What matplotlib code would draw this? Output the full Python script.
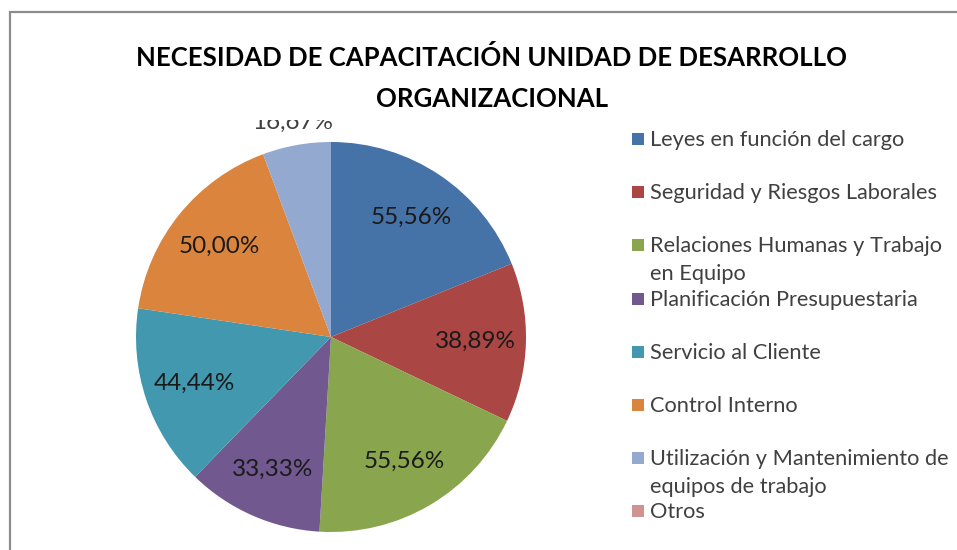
import matplotlib.pyplot as plt
from matplotlib.patches import Rectangle

plt.rcParams['font.family'] = ['Lato', 'DejaVu Sans']

# datos del gráfico
categorias = ['Leyes en función del cargo',
              'Seguridad y Riesgos Laborales',
              'Relaciones Humanas y Trabajo\nen Equipo',
              'Planificación Presupuestaria',
              'Servicio al Cliente',
              'Control Interno',
              'Utilización y Mantenimiento de\nequipos de trabajo',
              'Otros']
valores = [55.56, 38.89, 55.56, 33.33, 44.44, 50.00, 16.67, 0.0]
etiquetas = ['55,56%', '38,89%', '55,56%', '33,33%', '44,44%', '50,00%', '16,67%', '']
colores = ['#4572A7', '#AA4643', '#89A54E', '#71588F',
           '#4198AF', '#DB843D', '#93A9CF', '#D19392']

W, H = 957, 550
fig = plt.figure(figsize=(W / 100, H / 100), dpi=100)

# marco gris del área del gráfico
fig.patches.append(Rectangle((10 / W, -0.1), 1.2, (H - 12) / H + 0.1,
                             transform=fig.transFigure, fill=False,
                             edgecolor='#8c8c8c', linewidth=1.6, zorder=1))

# pastel: centro (331, 337) px, radio 195 px
cx, cy, r = 331, 337, 195
ax = fig.add_axes([(cx - r) / W, (H - cy - r) / H, 2 * r / W, 2 * r / H])
wedges, textos = ax.pie(valores, colors=colores, startangle=90, counterclock=False,
                        labels=etiquetas, labeldistance=0.74,
                        textprops={'fontsize': 17.5, 'color': '#1a1a1a',
                                   'ha': 'center', 'va': 'center'})
for t in textos:
    t.set_horizontalalignment('center')
# etiqueta de la porción pequeña va afuera
x, y = textos[6].get_position()
textos[6].set_position((x / 0.74 * 1.12, y / 0.74 * 1.12))
textos[6].set_color('#404040')
ax.set_xlim(-1, 1)
ax.set_ylim(-1, 1)
ax.set_aspect('auto')
ax.axis('off')

# franja blanca que recorta la etiqueta superior
fig.patches.append(Rectangle((225 / W, (H - 120) / H), 130 / W, 20 / H,
                             transform=fig.transFigure, facecolor='white',
                             edgecolor='none', zorder=5))

# título
fig.text(492 / W, 1 - 57 / H, 'NECESIDAD DE CAPACITACIÓN UNIDAD DE DESARROLLO',
         ha='center', va='center', fontsize=18.5, fontweight='bold', color='black', zorder=6)
fig.text(492 / W, 1 - 99 / H, 'ORGANIZACIONAL',
         ha='center', va='center', fontsize=18.5, fontweight='bold', color='black', zorder=6)

# leyenda manual
y0, paso = 139, 53.2
for i, (cat, col) in enumerate(zip(categorias, colores)):
    yy = y0 + paso * i
    fig.patches.append(Rectangle((632 / W, 1 - (yy + 6) / H), 12 / W, 12 / H,
                                 transform=fig.transFigure, facecolor=col,
                                 edgecolor='none', zorder=6))
    fig.text(650 / W, 1 - (yy - 9) / H, cat, ha='left', va='top', fontsize=15.7,
             color='#404040', linespacing=1.5, zorder=6)

fig.savefig('out.png', dpi=100)
